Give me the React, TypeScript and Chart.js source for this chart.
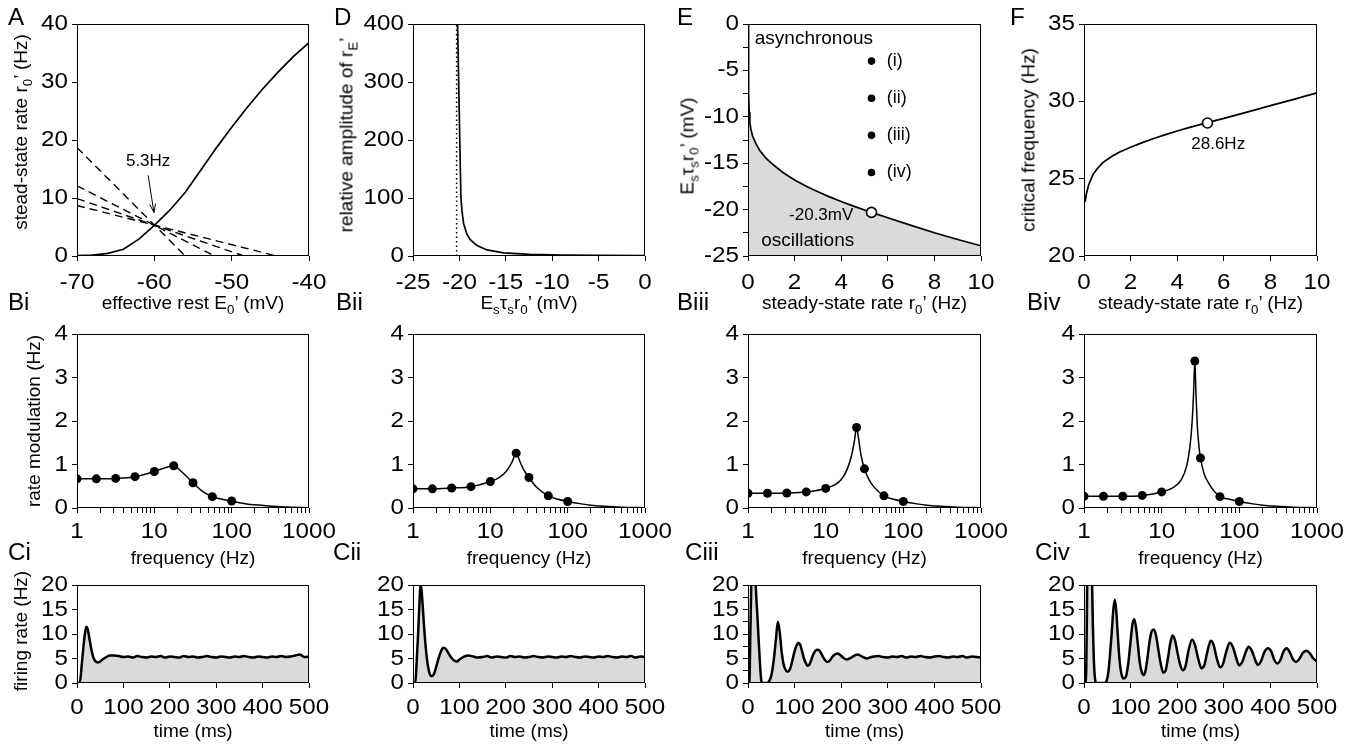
import React, { useEffect, useRef } from 'react';
import { Chart, registerables } from 'chart.js';

Chart.register(...registerables);

const FONT = '"Liberation Sans", Arial, Helvetica, sans-serif';
const TICK_SIZE = 22;
const TICK_SX = 1.1;
const TITLE_SIZE = 19;
const LETTER_SIZE = 23;
const LETTER_SX = 1.05;
const GREY = '#dadada';

// ================= DATA =================
// Panel A
const A_E0 = [-70, -68, -66, -64, -62, -60, -58, -56, -54, -52, -50, -48, -46, -44, -42, -40];
const A_RATE = [0.05, 0.15, 0.45, 1.15, 2.9, 5.3, 7.9, 11.0, 14.8, 18.6, 22.2, 25.6, 28.8, 31.7, 34.4, 36.8];
const A_DASH_START_E0 = [-70, -70, -70, -70];
const A_DASH_START_RATE = [18.7, 12.1, 9.9, 8.7];
const A_DASH_END_E0 = [-56.0, -52.2, -48.4, -44.2];
const A_CROSS_E0 = -60;
const A_CROSS_RATE = 5.3;
const A_NOTE = '5.3Hz';
const A_X_TICKS = [-70, -60, -50, -40];
const A_X_LABELS = ['-70', '-60', '-50', '-40'];
const A_Y_TICKS = [0, 10, 20, 30, 40];
const A_Y_LABELS = ['0', '10', '20', '30', '40'];

// Panel D
const D_X = [-20.2, -19.84, -19.73, -19.55, -19.2, -18.83, -18.1, -17.04, -15.25, -12.4, -9, -5, 0];
const D_Y = [400, 102, 79, 56, 38, 28, 18, 10.5, 5.5, 2.8, 1.6, 1.0, 0.6];
const D_CRIT = -20.3;
const D_X_TICKS = [-25, -20, -15, -10, -5, 0];
const D_X_LABELS = ['-25', '-20', '-15', '-10', '-5', '0'];
const D_Y_TICKS = [0, 100, 200, 300, 400];
const D_Y_LABELS = ['0', '100', '200', '300', '400'];

// Panel E
const E_RATE = [0.015, 0.02, 0.03, 0.05, 0.08, 0.12, 0.2, 0.35, 0.5, 0.75, 1, 1.5, 2, 2.5, 3, 3.5, 4, 4.5, 5, 5.3, 6, 7, 8, 9, 10];
const E_V = [0, -4, -7.5, -9.5, -10.6, -11.3, -12.1, -12.95, -13.6, -14.4, -15.0, -16.0, -16.8, -17.48, -18.08, -18.63, -19.13, -19.6, -20.04, -20.3, -20.88, -21.7, -22.5, -23.22, -23.9];
const E_CASE_RATE = [5.3, 5.3, 5.3, 5.3];
const E_CASE_V = [-4, -8, -12, -16];
const E_CASE_LABELS = ['(i)', '(ii)', '(iii)', '(iv)'];
const E_CRIT_RATE = 5.3;
const E_CRIT_V = -20.3;
const E_X_TICKS = [0, 2, 4, 6, 8, 10];
const E_X_LABELS = ['0', '2', '4', '6', '8', '10'];
const E_Y_TICKS = [-25, -22.5, -20, -17.5, -15, -12.5, -10, -7.5, -5, -2.5, 0];
const E_Y_LABELS = ['-25', '', '-20', '', '-15', '', '-10', '', '-5', '', '0'];

// Panel F
const F_RATE = [0.05, 0.1, 0.2, 0.4, 0.6, 0.82, 1.2, 1.53, 2, 2.5, 3, 3.5, 4, 4.5, 5.3, 6, 7, 8, 9, 10];
const F_FREQ = [23.5, 24.0, 24.6, 25.3, 25.7, 26.05, 26.45, 26.73, 27.03, 27.33, 27.6, 27.85, 28.08, 28.3, 28.62, 28.9, 29.3, 29.72, 30.13, 30.55];
const F_CRIT_RATE = 5.3;
const F_CRIT_FREQ = 28.6;
const F_X_TICKS = [0, 2, 4, 6, 8, 10];
const F_X_LABELS = ['0', '2', '4', '6', '8', '10'];
const F_Y_TICKS = [20, 25, 30, 35];
const F_Y_LABELS = ['20', '25', '30', '35'];

// Row B (rate modulation vs frequency)
const B_X_TICKS = [1, 2, 3, 4, 5, 6, 7, 8, 9, 10, 20, 30, 40, 50, 60, 70, 80, 90, 100, 200, 300, 400, 500, 600, 700, 800, 900, 1000];
const B_X_LABELS = ['1', '', '', '', '', '', '', '', '', '10', '', '', '', '', '', '', '', '', '100', '', '', '', '', '', '', '', '', '1000'];
const B_Y_TICKS = [0, 1, 2, 3, 4];
const B_Y_LABELS = ['0', '1', '2', '3', '4'];

const B1_FREQ = [1, 1.78, 3.16, 5.62, 10, 17.8, 31.6, 56.2, 100];
const B1_AMP = [0.67, 0.67, 0.68, 0.72, 0.84, 0.97, 0.58, 0.26, 0.16];
const B1_CURVE_F = [1, 1.78, 3.16, 5.62, 10, 13.5, 17.8, 22, 31.6, 42, 56.2, 75, 100, 150, 200, 300, 500, 1000];
const B1_CURVE_A = [0.67, 0.67, 0.68, 0.72, 0.84, 0.92, 0.97, 0.85, 0.58, 0.38, 0.26, 0.2, 0.155, 0.1, 0.072, 0.045, 0.022, 0.008];

const B2_FREQ = [1, 1.78, 3.16, 5.62, 10, 21.6, 31.6, 56.2, 100];
const B2_AMP = [0.44, 0.44, 0.46, 0.49, 0.61, 1.26, 0.70, 0.28, 0.15];
const B2_CURVE_F = [1, 1.78, 3.16, 5.62, 10, 13, 16, 19, 21.6, 24, 27, 31.6, 40, 56.2, 75, 100, 150, 200, 300, 500, 1000];
const B2_CURVE_A = [0.44, 0.44, 0.46, 0.49, 0.61, 0.70, 0.84, 1.05, 1.26, 1.08, 0.88, 0.70, 0.47, 0.28, 0.2, 0.15, 0.095, 0.065, 0.04, 0.018, 0.005];

const B3_FREQ = [1, 1.78, 3.16, 5.62, 10, 25.0, 31.6, 56.2, 100];
const B3_AMP = [0.34, 0.34, 0.345, 0.37, 0.45, 1.85, 0.90, 0.28, 0.15];
const B3_CURVE_F = [1, 1.78, 3.16, 5.62, 10, 13, 16, 19, 21.5, 23.5, 25, 26.5, 28.5, 31.6, 36, 42, 56.2, 75, 100, 150, 200, 300, 500, 1000];
const B3_CURVE_A = [0.34, 0.34, 0.345, 0.37, 0.45, 0.53, 0.66, 0.9, 1.2, 1.55, 1.85, 1.6, 1.22, 0.90, 0.66, 0.48, 0.28, 0.2, 0.15, 0.095, 0.065, 0.04, 0.018, 0.005];

const B4_FREQ = [1, 1.78, 3.16, 5.62, 10, 26.7, 31.6, 56.2, 100];
const B4_AMP = [0.27, 0.27, 0.27, 0.29, 0.37, 3.38, 1.15, 0.26, 0.15];
const B4_CURVE_F = [1, 1.78, 3.16, 5.62, 10, 14, 18, 21, 23, 24.5, 25.7, 26.7, 27.7, 29, 30.5, 31.6, 35, 40, 56.2, 75, 100, 150, 200, 300, 500, 1000];
const B4_CURVE_A = [0.27, 0.27, 0.27, 0.29, 0.37, 0.47, 0.66, 0.97, 1.38, 1.9, 2.6, 3.38, 2.6, 1.8, 1.35, 1.15, 0.8, 0.58, 0.26, 0.2, 0.15, 0.095, 0.065, 0.04, 0.018, 0.005];

// Row C (firing rate vs time)
const C_X_TICKS = [0, 100, 200, 300, 400, 500];
const C_X_LABELS = ['0', '100', '200', '300', '400', '500'];
const C_Y_TICKS = [0, 5, 10, 15, 20];
const C_Y_LABELS = ['0', '5', '10', '15', '20'];
const C3_Y_TICKS = [0, 2.5, 5, 7.5, 10, 12.5, 15, 17.5, 20];
const C3_Y_LABELS = ['0', '', '5', '', '10', '', '15', '', '20'];

const C1_T = [0, 6, 10, 14, 17, 20, 23, 26, 30, 35, 40, 45, 50, 55, 60, 65, 70, 80, 90, 100,
  110, 120, 130, 140, 150, 160, 170, 180, 190, 200, 210, 220, 230, 240, 250, 260, 270, 280, 290, 300,
  310, 320, 330, 340, 350, 360, 370, 380, 390, 400, 410, 420, 430, 440, 450, 460, 470, 480, 490, 500];
const C1_R = [0, 0, 3.5, 7.5, 10, 11.5, 11, 9.5, 7.3, 5.3, 4.4, 4.2, 4.4, 4.8, 5.1, 5.4, 5.6, 5.6, 5.5, 5.3,
  5.4, 5.2, 5.5, 5.3, 5.2, 5.4, 5.3, 5.5, 5.2, 5.4, 5.3, 5.2, 5.5, 5.3, 5.4, 5.2, 5.3, 5.5, 5.3, 5.2,
  5.4, 5.3, 5.2, 5.4, 5.3, 5.5, 5.3, 5.2, 5.4, 5.3, 5.2, 5.4, 5.3, 5.5, 5.3, 5.4, 5.6, 5.8, 5.3, 5.4];

const C2_T = [0, 5, 8, 11, 14, 16, 18, 20, 25, 30, 35, 40, 45, 50, 55, 60, 65, 70, 75, 80, 85, 90, 95, 100,
  110, 120, 130, 140, 150, 160, 170, 180, 190, 200, 210, 220, 230, 240, 250, 260, 270, 280, 290, 300,
  310, 320, 330, 340, 350, 360, 370, 380, 390, 400, 410, 420, 430, 440, 450, 460, 470, 480, 490, 500];
const C2_R = [0, 0, 4.5, 10, 16.5, 20, 19.3, 17, 10, 5, 2.2, 1.4, 1.8, 3.3, 5, 6.4, 7.2, 7.0, 6.3, 5.5, 4.9, 4.5, 4.4, 4.8,
  5.4, 5.6, 5.4, 5.2, 5.3, 5.5, 5.2, 5.4, 5.3, 5.2, 5.5, 5.3, 5.4, 5.2, 5.3, 5.5, 5.3, 5.2, 5.4, 5.3,
  5.2, 5.4, 5.3, 5.5, 5.3, 5.2, 5.4, 5.3, 5.2, 5.4, 5.3, 5.5, 5.3, 5.2, 5.4, 5.3, 5.5, 5.2, 5.4, 5.3];

const C3_T = [0, 3, 5, 7, 9, 11, 13, 16.5, 20, 23, 26, 28.5, 31,
  40, 45, 50, 55, 60, 64, 68, 72, 76, 80,
  85, 90, 95, 100, 105, 108, 112, 116, 120, 125,
  128, 132, 136, 140, 145, 150, 155, 160, 165, 170,
  175, 180, 185, 192, 198, 205, 212, 218, 225, 235,
  245, 255, 265,
  280, 290, 300, 310, 320, 330, 340, 350, 360, 370, 380, 390, 400, 410, 420, 430, 440, 450, 460, 470, 480, 490, 500];
const C3_R = [0, 0, 10, 20, 30, 34, 30, 20, 14, 8.5, 3.5, 0.5, 0,
  0, 0.3, 1.5, 4.5, 9, 12.5, 10.5, 6.5, 4, 2.8,
  2.3, 2.8, 4.5, 6.5, 7.8, 8.2, 7.8, 6.5, 5, 3.9,
  3.5, 3.8, 4.8, 5.8, 6.6, 6.8, 6.4, 5.5, 4.7, 4.3,
  4.5, 5.2, 5.7, 6.0, 5.7, 5.1, 4.8, 5.0, 5.4, 5.8,
  5.4, 5.0, 5.3,
  5.5, 5.3, 5.2, 5.4, 5.3, 5.5, 5.2, 5.4, 5.3, 5.5, 5.3, 5.2, 5.4, 5.5, 5.3, 5.2, 5.4, 5.3, 5.5, 5.2, 5.4, 5.3, 5.2];

const C4_T = [0, 4, 6, 8, 11, 14, 17, 19, 21, 23,
  25, 28, 45, 48, 52, 56, 60, 63, 66, 69,
  72, 76, 80, 85, 90, 95, 100, 104, 108, 112,
  116, 120, 124, 128, 132, 136, 140, 145, 150, 155,
  160, 165, 170, 175, 180, 185, 190, 195, 200, 205,
  212, 218, 224, 232, 238, 245, 252, 258, 265, 272,
  278, 285, 292, 298, 305, 313, 320, 327, 333, 340,
  347, 353, 360, 367, 373, 380, 387, 395, 402, 408,
  415, 422, 428, 435, 442, 448, 455, 462, 470, 478,
  485, 492, 500];
const C4_R = [0, 0, 12, 30, 45, 38, 22, 12, 5, 1.5,
  0.2, 0, 0, 0.3, 2, 6, 11, 15, 17, 15,
  10.5, 5, 2, 0.9, 1.3, 4, 8.5, 12, 13, 11,
  7.5, 4, 2.2, 1.6, 2.5, 5, 8, 10.5, 10.9, 9.5,
  6.5, 3.8, 2.1, 2.5, 5, 8, 9.7, 8.8, 6.5, 4.2,
  2.6, 3.5, 6.5, 8.9, 7.8, 5, 3, 3.6, 6.5, 8.6,
  7.8, 5, 3.2, 3.8, 6.3, 8.2, 7.2, 5, 3.6, 4.4,
  6.3, 7.4, 6.6, 4.8, 3.7, 4.5, 6.3, 7.1, 6.4, 4.8,
  4.0, 4.8, 6.4, 7.1, 6.2, 4.9, 4.3, 4.9, 6.2, 6.6,
  6.0, 5.0, 4.4];

// ================= LAYOUT =================
const COL_L = [77, 413, 748, 1084];
const COL_W = [232, 232, 233, 233];
const ROW_T = [24, 334, 585];
const ROW_H = [232, 174, 98];
const ROW_XLABEL_GAP = [27, 24, 25];
const PADL = 75, PADT = 16, PADR = 36, PADB = 40;

type Axis = { type: 'linear' | 'logarithmic'; min: number; max: number; ticks: number[]; labels: string[] };
type PanelSpec = {
  id: string;
  col: number;
  row: number;
  x: Axis;
  y: Axis;
  datasets: any[];
  annotate?: (chart: any) => void;
};

function drawText(ctx: CanvasRenderingContext2D, text: string, x: number, y: number, size: number, align: CanvasTextAlign, sx = 1) {
  ctx.save();
  ctx.translate(x, y);
  ctx.scale(sx, 1);
  ctx.font = `${size}px ${FONT}`;
  ctx.fillStyle = '#000';
  ctx.textAlign = align;
  ctx.textBaseline = 'middle';
  ctx.fillText(text, 0, 0);
  ctx.restore();
}

const pts = (xs: number[], ys: number[]) => xs.map((x, i) => ({ x, y: ys[i] }));
const line = (xs: number[], ys: number[], extra: any = {}) => ({
  type: 'line', data: pts(xs, ys), borderColor: '#000', borderWidth: 1.6, pointRadius: 0, fill: false, tension: 0, ...extra,
});
const dots = (xs: number[], ys: number[], extra: any = {}) => ({
  type: 'line', showLine: false, data: pts(xs, ys), pointRadius: 4, pointBackgroundColor: '#000', pointBorderColor: '#000', pointBorderWidth: 0, ...extra,
});
const hollow = { pointRadius: 5, pointBackgroundColor: '#fff', pointBorderColor: '#000', pointBorderWidth: 1.6 };

function makeScale(ax: Axis, dir: 'x' | 'y') {
  return {
    type: ax.type,
    min: ax.min,
    max: ax.max,
    position: dir === 'x' ? 'bottom' : 'left',
    afterBuildTicks: (s: any) => { s.ticks = ax.ticks.map((v) => ({ value: v })); },
    afterFit: (s: any) => { if (dir === 'x') s.height = PADB; else s.width = PADL; },
    ticks: { display: false, autoSkip: false },
    grid: { display: true, drawOnChartArea: false, drawTicks: true, tickLength: 5, color: '#000', lineWidth: 1 },
    border: { display: false },
  };
}

function decoPlugin(spec: PanelSpec) {
  return {
    id: 'deco_' + spec.id,
    afterDraw(chart: any) {
      const ctx: CanvasRenderingContext2D = chart.ctx;
      const a = chart.chartArea;
      const xs = chart.scales.x, ys = chart.scales.y;
      ctx.save();
      ctx.strokeStyle = '#000';
      ctx.lineWidth = 1;
      ctx.strokeRect(Math.round(a.left) + 0.5, Math.round(a.top) + 0.5, Math.round(a.right - a.left) - 1, Math.round(a.bottom - a.top) - 1);
      const gap = ROW_XLABEL_GAP[spec.row];
      spec.x.ticks.forEach((v, i) => {
        const lab = spec.x.labels[i];
        if (lab) drawText(ctx, lab, xs.getPixelForValue(v), a.bottom + gap, TICK_SIZE, 'center', TICK_SX);
      });
      spec.y.ticks.forEach((v, i) => {
        const lab = spec.y.labels[i];
        if (lab) drawText(ctx, lab, a.left - 9, ys.getPixelForValue(v), TICK_SIZE, 'right', TICK_SX);
      });
      if (spec.annotate) spec.annotate(chart);
      ctx.restore();
    },
  };
}

function Panel({ spec }: { spec: PanelSpec }) {
  const ref = useRef<HTMLCanvasElement>(null);
  const l = COL_L[spec.col], w = COL_W[spec.col];
  const t = ROW_T[spec.row], h = ROW_H[spec.row];
  const cw = w + PADL + PADR, ch = h + PADT + PADB;
  useEffect(() => {
    const chart = new Chart(ref.current as HTMLCanvasElement, {
      type: 'line',
      data: { datasets: spec.datasets },
      options: {
        responsive: false,
        animation: false,
        events: [],
        layout: { padding: { top: PADT, right: PADR, left: 0, bottom: 0 } },
        plugins: { legend: { display: false }, tooltip: { enabled: false }, title: { display: false } },
        scales: { x: makeScale(spec.x, 'x'), y: makeScale(spec.y, 'y') } as any,
      },
      plugins: [decoPlugin(spec)],
    } as any);
    return () => chart.destroy();
  }, []);
  return (
    <canvas ref={ref} width={cw} height={ch}
      style={{ position: 'absolute', left: l - PADL, top: t - PADT, width: cw, height: ch }} />
  );
}

const lin = (min: number, max: number, ticks: number[], labels: string[]): Axis => ({ type: 'linear', min, max, ticks, labels });
const logB: Axis = { type: 'logarithmic', min: 1, max: 1000, ticks: B_X_TICKS, labels: B_X_LABELS };

const bPanel = (id: string, col: number, f: number[], a: number[], cf: number[], ca: number[]): PanelSpec => ({
  id, col, row: 1, x: logB, y: lin(0, 4, B_Y_TICKS, B_Y_LABELS),
  datasets: [
    dots(f, a, { pointRadius: 4.5 }),
    line(cf, ca, { borderWidth: 1.5, cubicInterpolationMode: 'monotone' }),
  ],
});

const cPanel = (id: string, col: number, tt: number[], rr: number[], yt: number[], yl: string[]): PanelSpec => ({
  id, col, row: 2, x: lin(0, 500, C_X_TICKS, C_X_LABELS), y: lin(0, 20, yt, yl),
  datasets: [
    line(tt, rr, { fill: 'origin', backgroundColor: GREY, borderWidth: 2.5, cubicInterpolationMode: 'monotone' }),
  ],
});

const PANELS: PanelSpec[] = [
  {
    id: 'A', col: 0, row: 0,
    x: lin(-70, -40, A_X_TICKS, A_X_LABELS), y: lin(0, 40, A_Y_TICKS, A_Y_LABELS),
    datasets: [
      line(A_E0, A_RATE, { borderWidth: 1.7 }),
      ...A_DASH_END_E0.map((e, i) => line([A_DASH_START_E0[i], e], [A_DASH_START_RATE[i], 0], { borderDash: [8, 5], borderWidth: 1.4 })),
    ],
    annotate: (chart) => {
      const ctx: CanvasRenderingContext2D = chart.ctx;
      const xs = chart.scales.x, ys = chart.scales.y;
      drawText(ctx, A_NOTE, xs.getPixelForValue(A_CROSS_E0 - 0.8), ys.getPixelForValue(16.3), 17, 'center');
      const x1 = xs.getPixelForValue(A_CROSS_E0 - 0.8), y1 = ys.getPixelForValue(13.9);
      const x2 = xs.getPixelForValue(A_CROSS_E0 - 0.05), y2 = ys.getPixelForValue(A_CROSS_RATE + 2.2);
      ctx.strokeStyle = '#000';
      ctx.lineWidth = 1;
      ctx.beginPath();
      ctx.moveTo(x1, y1);
      ctx.lineTo(x2, y2);
      const ang = Math.atan2(y2 - y1, x2 - x1);
      const L = 9, s = 0.33;
      ctx.moveTo(x2 - L * Math.cos(ang - s), y2 - L * Math.sin(ang - s));
      ctx.lineTo(x2, y2);
      ctx.lineTo(x2 - L * Math.cos(ang + s), y2 - L * Math.sin(ang + s));
      ctx.stroke();
    },
  },
  {
    id: 'D', col: 1, row: 0,
    x: lin(-25, 0, D_X_TICKS, D_X_LABELS), y: lin(0, 400, D_Y_TICKS, D_Y_LABELS),
    datasets: [
      line([D_CRIT, D_CRIT], [0, 400], { borderDash: [1.5, 3], borderWidth: 1.5 }),
      line(D_X, D_Y, { borderWidth: 1.7 }),
    ],
  },
  {
    id: 'E', col: 2, row: 0,
    x: lin(0, 10, E_X_TICKS, E_X_LABELS), y: lin(-25, 0, E_Y_TICKS, E_Y_LABELS),
    datasets: [
      dots([E_CRIT_RATE], [E_CRIT_V], hollow),
      dots(E_CASE_RATE, E_CASE_V, { pointRadius: 3.8 }),
      line(E_RATE, E_V, { fill: 'start', backgroundColor: GREY, borderWidth: 1.7 }),
    ],
    annotate: (chart) => {
      const ctx: CanvasRenderingContext2D = chart.ctx;
      const xs = chart.scales.x, ys = chart.scales.y;
      drawText(ctx, 'asynchronous', xs.getPixelForValue(0.29), ys.getPixelForValue(-1.6), 19, 'left');
      drawText(ctx, 'oscillations', xs.getPixelForValue(0.57), ys.getPixelForValue(-23.4), 19, 'left');
      E_CASE_LABELS.forEach((lab, i) => {
        drawText(ctx, lab, xs.getPixelForValue(E_CASE_RATE[i] + 0.65), ys.getPixelForValue(E_CASE_V[i]), 18, 'left');
      });
      drawText(ctx, E_CRIT_V.toFixed(1) + 'mV', xs.getPixelForValue(E_CRIT_RATE - 0.78), ys.getPixelForValue(E_CRIT_V - 0.3), 17, 'right');
    },
  },
  {
    id: 'F', col: 3, row: 0,
    x: lin(0, 10, F_X_TICKS, F_X_LABELS), y: lin(20, 35, F_Y_TICKS, F_Y_LABELS),
    datasets: [
      dots([F_CRIT_RATE], [F_CRIT_FREQ], hollow),
      line(F_RATE, F_FREQ, { borderWidth: 1.7 }),
    ],
    annotate: (chart) => {
      const xs = chart.scales.x, ys = chart.scales.y;
      drawText(chart.ctx, F_CRIT_FREQ.toFixed(1) + 'Hz', xs.getPixelForValue(F_CRIT_RATE + 0.46), ys.getPixelForValue(F_CRIT_FREQ - 1.4), 17, 'center');
    },
  },
  bPanel('Bi', 0, B1_FREQ, B1_AMP, B1_CURVE_F, B1_CURVE_A),
  bPanel('Bii', 1, B2_FREQ, B2_AMP, B2_CURVE_F, B2_CURVE_A),
  bPanel('Biii', 2, B3_FREQ, B3_AMP, B3_CURVE_F, B3_CURVE_A),
  bPanel('Biv', 3, B4_FREQ, B4_AMP, B4_CURVE_F, B4_CURVE_A),
  cPanel('Ci', 0, C1_T, C1_R, C_Y_TICKS, C_Y_LABELS),
  cPanel('Cii', 1, C2_T, C2_R, C_Y_TICKS, C_Y_LABELS),
  cPanel('Ciii', 2, C3_T, C3_R, C3_Y_TICKS, C3_Y_LABELS),
  cPanel('Civ', 3, C4_T, C4_R, C_Y_TICKS, C_Y_LABELS),
];

// ================= TEXT OVERLAY =================
const Sub = ({ c }: { c: string }) => (
  <span style={{ fontSize: '0.7em', position: 'relative', top: '0.38em' }}>{c}</span>
);
const T_EFFECTIVE = <>effective rest E<Sub c="0" />’ (mV)</>;
const T_ESTR = <>E<Sub c="s" />τ<Sub c="s" />r<Sub c="0" />’ (mV)</>;
const T_RATE = <>steady-state rate r<Sub c="0" />’ (Hz)</>;
const T_STEAD = <>stead-state rate r<Sub c="0" />’ (Hz)</>;
const T_REL = <>relative amplitude of r<Sub c="E" />’</>;

const LETTERS: [string, number, number][] = [
  ['A', 8, 17], ['D', 334, 17], ['E', 677, 17], ['F', 1010, 17],
  ['Bi', 8, 302], ['Bii', 336, 302], ['Biii', 677, 302], ['Biv', 1027, 302],
  ['Ci', 8, 552], ['Cii', 333, 552], ['Ciii', 685, 552], ['Civ', 1035, 552],
];

const colCenter = (c: number) => COL_L[c] + COL_W[c] / 2;

const X_TITLES: [React.ReactNode, number, number][] = [
  [T_EFFECTIVE, colCenter(0), 302], [T_ESTR, colCenter(1), 302], [T_RATE, colCenter(2), 302], [T_RATE, colCenter(3), 302],
  ['frequency (Hz)', colCenter(0), 557], ['frequency (Hz)', colCenter(1), 557], ['frequency (Hz)', colCenter(2), 557], ['frequency (Hz)', colCenter(3), 557],
  ['time (ms)', colCenter(0), 730], ['time (ms)', colCenter(1), 730], ['time (ms)', colCenter(2), 730], ['time (ms)', colCenter(3), 730],
];

const Y_TITLES: [React.ReactNode, number, number][] = [
  [T_STEAD, 20, 132], [T_REL, 346, 135], [T_ESTR, 687, 146], ['critical frequency (Hz)', 1028, 140],
  ['rate modulation (Hz)', 33, 421], ['firing rate (Hz)', 20, 631],
];

const textBase: React.CSSProperties = {
  position: 'absolute', whiteSpace: 'nowrap', fontFamily: FONT, color: '#000', lineHeight: 1,
};

export default function App() {
  return (
    <div style={{ position: 'absolute', left: 0, top: 0, width: 1367, height: 744, background: '#fff', overflow: 'hidden' }}>
      {PANELS.map((p) => <Panel key={p.id} spec={p} />)}
      {LETTERS.map(([txt, x, y]) => (
        <div key={txt} style={{ ...textBase, left: x, top: y, fontSize: LETTER_SIZE, transform: `translateY(-50%) scaleX(${LETTER_SX})`, transformOrigin: 'left center' }}>{txt}</div>
      ))}
      {X_TITLES.map(([node, x, y], i) => (
        <div key={'xt' + i} style={{ ...textBase, left: x, top: y, fontSize: TITLE_SIZE, transform: 'translate(-50%, -50%)' }}>{node}</div>
      ))}
      {Y_TITLES.map(([node, x, y], i) => (
        <div key={'yt' + i} style={{ ...textBase, left: x, top: y, fontSize: TITLE_SIZE, transform: 'translate(-50%, -50%) rotate(-90deg)' }}>{node}</div>
      ))}
    </div>
  );
}
